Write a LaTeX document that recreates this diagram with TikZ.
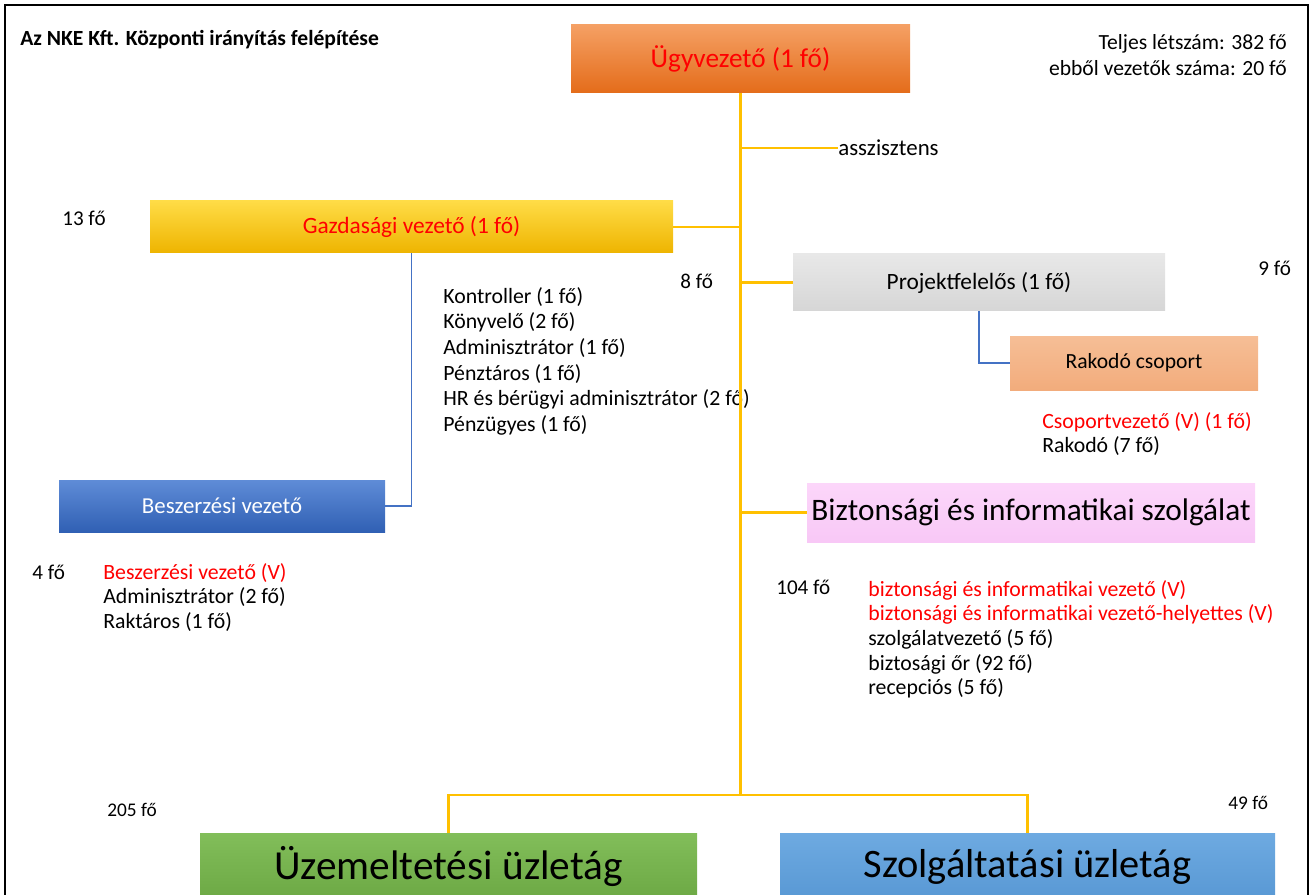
\documentclass[tikz,border=0pt]{standalone}
\usepackage{fontspec}
\setmainfont{Carlito}
\usetikzlibrary{positioning}

\definecolor{trunkgold}{HTML}{FFC000}
\definecolor{tieblue}{HTML}{4472C4}
\definecolor{redtxt}{HTML}{FF0000}

\begin{document}
\begin{tikzpicture}[x=0.02cm,y=-0.02cm,
    box/.style={rectangle,inner sep=0pt,align=center},
    trunk/.style={draw=trunkgold,line width=1.4pt},
    tie/.style={draw=tieblue,line width=0.9pt},
    count/.style={anchor=west,inner sep=0pt,font=\fontsize{12}{14}\selectfont},
    list/.style={anchor=north west,inner sep=0pt,align=left,font=\fontsize{12.4}{14}\selectfont}]

    \useasboundingbox (0,0) rectangle (1312,895);
    \clip (0,0) rectangle (1312,895);
    \draw[line width=1.2pt] (5,900) -- (5,5) -- (1308,5) -- (1308,900);

    % boxes
    \node[box,minimum width=339*0.02cm,minimum height=68*0.02cm,top color={rgb,255:red,245;green,160;blue,100},bottom color={rgb,255:red,228;green,108;blue,26},text=redtxt,font=\fontsize{15.5}{18}\selectfont] (ugy) at (740.5,59) {Ügyvezető (1 fő)};
    \node[box,minimum width=523*0.02cm,minimum height=52*0.02cm,top color={rgb,255:red,255;green,220;blue,70},bottom color={rgb,255:red,238;green,180;blue,0},text=redtxt,font=\fontsize{13.3}{16}\selectfont] (gazd) at (411.5,227) {Gazdasági vezető (1 fő)};
    \node[box,minimum width=372*0.02cm,minimum height=57*0.02cm,top color={rgb,255:red,232;green,232;blue,232},bottom color={rgb,255:red,214;green,214;blue,214},font=\fontsize{13.3}{16}\selectfont] (proj) at (979,282.5) {Projektfelelős (1 fő)};
    \node[box,minimum width=248*0.02cm,minimum height=54*0.02cm,top color={rgb,255:red,246;green,190;blue,150},bottom color={rgb,255:red,242;green,172;blue,124},font=\fontsize{12.3}{15}\selectfont] (rak) at (1134,363) {Rakodó csoport};
    \node[box,minimum width=326*0.02cm,minimum height=52*0.02cm,top color={rgb,255:red,95;green,140;blue,215},bottom color={rgb,255:red,48;green,96;blue,180},text=white,font=\fontsize{13}{16}\selectfont] (besz) at (222,506) {Beszerzési vezető};
    \node[box,minimum width=448*0.02cm,minimum height=59*0.02cm,top color={rgb,255:red,252;green,214;blue,250},bottom color={rgb,255:red,248;green,200;blue,246},font=\fontsize{17.8}{21}\selectfont] (bizt) at (1031,512.5) {Biztonsági és informatikai szolgálat};
    \node[box,minimum width=497*0.02cm,minimum height=67*0.02cm,top color={rgb,255:red,130;green,190;blue,90},bottom color={rgb,255:red,108;green,168;blue,68},font=\fontsize{23.5}{28}\selectfont] (uzem) at (448.5,866.5) {Üzemeltetési üzletág};
    \node[box,minimum width=495*0.02cm,minimum height=67*0.02cm,top color={rgb,255:red,110;green,170;blue,225},bottom color={rgb,255:red,88;green,152;blue,212},font=\fontsize{23}{28}\selectfont] (szolg) at (1027.5,866.5) {Szolgáltatási üzletág};

    % texts
    \node[anchor=west,inner sep=0pt,font=\bfseries\fontsize{12.3}{14}\selectfont] (title) at (20,40) {Az NKE Kft. Központi irányítás felépítése};
    \node[anchor=north east,inner sep=0pt,align=right,font=\fontsize{12.3}{14.8}\selectfont] (total) at (1287,34) {Teljes létszám: 382 fő\\ebből vezetők száma: 20 fő};
    \node[anchor=west,inner sep=0pt,font=\fontsize{13}{15}\selectfont] (asz) at (838,148) {asszisztens};

    \node[count] (n13) at (62,218) {13 fő};
    \node[count] (n8) at (680,281) {8 fő};
    \node[count] (n9) at (1258,268) {9 fő};
    \node[count] (n4) at (32,572) {4 fő};
    \node[count] (n104) at (776,587) {104 fő};
    \node[count,font=\fontsize{11}{13}\selectfont] (n205) at (107,810) {205 fő};
    \node[count,font=\fontsize{11}{13}\selectfont] (n49) at (1228,803) {49 fő};

    \node[list,font=\fontsize{12.4}{14.6}\selectfont] (gazdlist) at (443,287) {Kontroller (1 fő)\\Könyvelő (2 fő)\\Adminisztrátor (1 fő)\\Pénztáros (1 fő)\\HR és bérügyi adminisztrátor (2 fő)\\Pénzügyes (1 fő)};
    \node[list] (raklist) at (1042,412) {\textcolor{redtxt}{Csoportvezető (V) (1 fő)}\\Rakodó (7 fő)};
    \node[list] (beszlist) at (103,563) {\textcolor{redtxt}{Beszerzési vezető (V)}\\Adminisztrátor (2 fő)\\Raktáros (1 fő)};
    \node[list] (biztlist) at (868,580) {\textcolor{redtxt}{biztonsági és informatikai vezető (V)}\\\textcolor{redtxt}{biztonsági és informatikai vezető-helyettes (V)}\\szolgálatvezető (5 fő)\\biztosági őr (92 fő)\\recepciós (5 fő)};

    % connectors
    \coordinate (split) at (740.5,795);
    \path[trunk]
        (ugy) -- (split)
        (split) -| (uzem)
        (split) -| (szolg)
        (ugy.south |- asz.west) -- (asz.west)
        (gazd.east) -- (gazd.east -| ugy.south)
        (proj.west -| ugy.south) -- (proj.west)
        (bizt.west -| ugy.south) -- (bizt.west)
        ;
    \path[tie]
        (gazd) |- (besz)
        (proj) |- (rak)
        ;
\end{tikzpicture}
\end{document}
